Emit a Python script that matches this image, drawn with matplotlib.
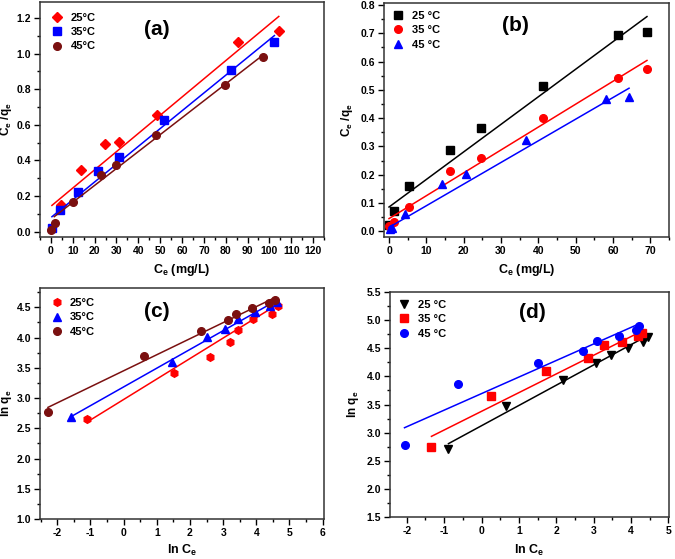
import matplotlib
matplotlib.use('Agg')
import matplotlib.pyplot as plt
import numpy as np
from matplotlib.ticker import MultipleLocator, FormatStrFormatter

plt.rcParams['font.family'] = ['Liberation Sans', 'DejaVu Sans']
plt.rcParams['font.weight'] = 'bold'
plt.rcParams['mathtext.fontset'] = 'custom'
plt.rcParams['mathtext.rm'] = 'Liberation Sans:bold'
plt.rcParams['mathtext.bf'] = 'Liberation Sans:bold'

labels_a = ['25°C', '35°C', '45°C']
labels_b = ['25 °C', '35 °C', '45 °C']

# (a) Langmuir, Ce vs Ce/qe
a_x = [
    [4.6, 13.7, 24.9, 31.3, 48.5, 85.8, 104.3],
    [0.45, 4.3, 12.2, 21.4, 31.3, 51.6, 82.6, 102.3],
    [0.0, 1.8, 10.1, 22.7, 29.9, 47.9, 79.8, 97.3],
]
a_y = [
    [0.148, 0.344, 0.495, 0.503, 0.656, 1.065, 1.125],
    [0.022, 0.121, 0.222, 0.342, 0.420, 0.626, 0.907, 1.064],
    [0.007, 0.047, 0.168, 0.316, 0.372, 0.544, 0.826, 0.981],
]
a_fit_x = [[0.45, 104.3], [0.45, 102.3], [1.5, 97.3]]
a_fit_k = [0.01022, 0.00999, 0.0095]
a_fit_b = [0.143, 0.0795, 0.070]

# (b)
b_x = [
    [0.0, 1.25, 5.36, 16.4, 24.6, 41.2, 61.3, 69.1],
    [0.1, 1.25, 5.36, 16.4, 24.6, 41.2, 61.3, 69.1],
    [0.27, 0.7, 4.3, 14.3, 20.5, 36.7, 58.2, 64.3],
]
b_y = [
    [0.024, 0.071, 0.159, 0.286, 0.365, 0.514, 0.695, 0.706],
    [0.018, 0.032, 0.086, 0.213, 0.258, 0.402, 0.542, 0.574],
    [0.008, 0.012, 0.062, 0.166, 0.204, 0.324, 0.468, 0.476],
]
b_fit_x = [[0.0, 69.1], [0.0, 69.1], [0.0, 64.3]]
b_fit_k = [0.00974, 0.00809, 0.00765]
b_fit_b = [0.086, 0.045, 0.014]

# (c) Freundlich
c_x = [
    [-1.116, 1.508, 2.613, 3.216, 3.447, 3.889, 4.462, 4.663],
    [-1.588, 1.447, 2.513, 3.065, 3.447, 3.970, 4.422, 4.633],
    [-2.281, 0.613, 2.322, 3.136, 3.397, 3.879, 4.392, 4.573],
]
c_y = [
    [2.654, 3.409, 3.684, 3.921, 4.125, 4.307, 4.390, 4.528],
    [2.692, 3.602, 4.004, 4.142, 4.307, 4.417, 4.528, 4.583],
    [2.775, 3.695, 4.109, 4.291, 4.390, 4.489, 4.577, 4.621],
]
c_fit_x = [[-1.116, 4.663], [-1.588, 4.633], [-2.281, 4.573]]
c_fit_k = [0.3387, 0.31, 0.2654]
c_fit_b = [2.976, 3.184, 3.451]

# (d)
d_x = [
    [-0.885, 0.657, 2.173, 3.065, 3.475, 3.930, 4.314, 4.447],
    [-1.34, 0.247, 1.718, 2.851, 3.270, 3.770, 4.180, 4.296],
    [-2.062, -0.618, 1.505, 2.708, 3.083, 3.671, 4.135, 4.224],
]
d_y = [
    [2.715, 3.467, 3.941, 4.238, 4.380, 4.510, 4.611, 4.700],
    [2.744, 3.645, 4.096, 4.327, 4.552, 4.611, 4.718, 4.777],
    [2.774, 3.870, 4.244, 4.457, 4.623, 4.724, 4.819, 4.896],
]
d_fit_x = [[-0.885, 4.465], [-1.34, 4.296], [-2.062, 4.224]]
d_fit_k = [0.36, 0.332, 0.294]
d_fit_b = [3.123, 3.379, 3.694]

RED, BLUE, BROWN, BLACK = '#ff0000', '#0000ff', '#7a1010', '#000000'

panels = [
    dict(rect=[0.0593, 0.576, 0.4207, 0.4204], x=a_x, y=a_y, fx=a_fit_x, fk=a_fit_k, fb=a_fit_b,
         colors=[RED, BLUE, BROWN], markers=['D', 's', 'o'], labels=labels_a, tag='(a)', tagpos=(0.41, 0.885),
         xlim=(-5, 125), ylim=(-0.03, 1.29), xmaj=10, xmin=5, ymaj=0.2, ymin=0.1,
         xlabel=r'C$_\mathbf{e}$ (mg/L)', ylabel=r'C$_\mathbf{e}$ /q$_\mathbf{e}$',
         xlab_at=-0.106, ylab_at=-0.09, legpad=0.55),
    dict(rect=[0.5689, 0.576, 0.4222, 0.4186], x=b_x, y=b_y, fx=b_fit_x, fk=b_fit_k, fb=b_fit_b,
         colors=[BLACK, RED, BLUE], markers=['s', 'o', '^'], labels=labels_b, tag='(b)', tagpos=(0.46, 0.905),
         xlim=(-1.34, 75), ylim=(-0.02, 0.807), xmaj=10, xmin=5, ymaj=0.1, ymin=0.05,
         xlabel=r'C$_\mathbf{e}$ (mg/L)', ylabel=r'C$_\mathbf{e}$ /q$_\mathbf{e}$',
         xlab_at=-0.107, ylab_at=-0.102, legpad=0.3),
    dict(rect=[0.0593, 0.0716, 0.4207, 0.4132], x=c_x, y=c_y, fx=c_fit_x, fk=c_fit_k, fb=c_fit_b,
         colors=[RED, BLUE, BROWN], markers=['h', '^', 'o'], labels=labels_a, tag='(c)', tagpos=(0.41, 0.897),
         xlim=(-2.52, 6.04), ylim=(1.0, 4.82), xmaj=1, xmin=0.5, ymaj=0.5, ymin=0.25,
         xlabel=r'ln C$_\mathbf{e}$', ylabel=r'ln q$_\mathbf{e}$',
         xlab_at=-0.104, ylab_at=-0.09, legpad=0.5),
    dict(rect=[0.5778, 0.0751, 0.4133, 0.4025], x=d_x, y=d_y, fx=d_fit_x, fk=d_fit_k, fb=d_fit_b,
         colors=[BLACK, RED, BLUE], markers=['v', 's', 'o'], labels=labels_b, tag='(d)', tagpos=(0.51, 0.91),
         xlim=(-2.45, 5.02), ylim=(1.5, 5.5), xmaj=1, xmin=0.5, ymaj=0.5, ymin=0.25,
         xlabel=r'ln C$_\mathbf{e}$', ylabel=r'ln q$_\mathbf{e}$',
         xlab_at=-0.114, ylab_at=-0.104, legpad=0.3),
]

fig = plt.figure(figsize=(6.75, 5.59), dpi=100)

for p in panels:
    ax = fig.add_axes(p['rect'])
    for i in range(3):
        ms = 5 if p['markers'][i] == 'D' else 5.5
        ax.plot(p['x'][i], p['y'][i], ls='none', marker=p['markers'][i], color=p['colors'][i],
                markersize=ms, label=p['labels'][i])
        fx = np.array(p['fx'][i])
        ax.plot(fx, p['fk'][i] * fx + p['fb'][i], color=p['colors'][i], lw=1.1)
    ax.set_xlim(*p['xlim'])
    ax.set_ylim(*p['ylim'])
    ax.xaxis.set_major_locator(MultipleLocator(p['xmaj']))
    ax.xaxis.set_minor_locator(MultipleLocator(p['xmin']))
    ax.yaxis.set_major_locator(MultipleLocator(p['ymaj']))
    ax.yaxis.set_minor_locator(MultipleLocator(p['ymin']))
    ax.xaxis.set_major_formatter(FormatStrFormatter('%d'))
    ax.yaxis.set_major_formatter(FormatStrFormatter('%.1f'))
    ax.tick_params(which='both', direction='out', top=False, right=False, labelsize=7.5, width=1, pad=2.5)
    ax.tick_params(which='major', length=4)
    ax.tick_params(which='minor', length=2)
    for s in ax.spines.values():
        s.set_linewidth(1.1)
        s.set_color('#333333')
    ax.set_xlabel(p['xlabel'], fontsize=9, fontweight='bold')
    ax.set_ylabel(p['ylabel'], fontsize=8.5, fontweight='bold')
    ax.xaxis.set_label_coords(0.5, p['xlab_at'])
    ax.yaxis.set_label_coords(p['ylab_at'], 0.5)
    ax.text(p['tagpos'][0], p['tagpos'][1], p['tag'], transform=ax.transAxes, fontsize=15,
            fontweight='bold', ha='center', va='center')
    ax.legend(loc='upper left', frameon=False, handletextpad=0.6, borderaxespad=p['legpad'],
              labelspacing=0.4, handlelength=1.2, prop={'weight': 'bold', 'size': 8})

fig.savefig('out.png', dpi=100)
